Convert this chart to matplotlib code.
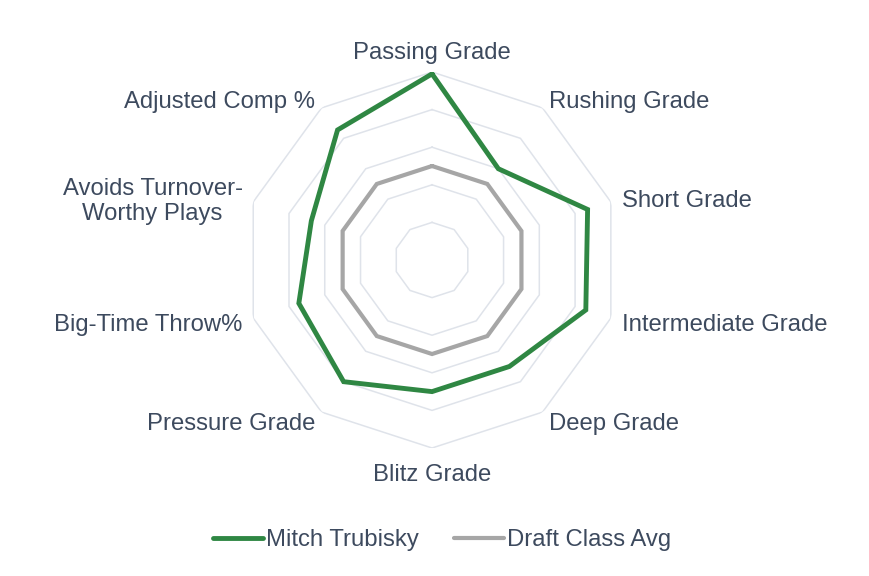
import matplotlib
matplotlib.use("Agg")
import matplotlib.pyplot as plt
import matplotlib.transforms as mtransforms
import numpy as np

plt.rcParams['font.family'] = ['Liberation Sans', 'DejaVu Sans']

categories = ["Passing Grade", "Rushing Grade", "Short Grade", "Intermediate Grade",
              "Deep Grade", "Blitz Grade", "Pressure Grade", "Big-Time Throw%",
              "Avoids Turnover-\nWorthy Plays", "Adjusted Comp %"]
trubisky = [99, 60, 87, 86, 70, 70, 80, 74.5, 67.5, 85.5]
draft_avg = [50, 50, 50, 50, 50, 50, 50, 50, 50, 50]
rings = [20, 40, 60, 80, 100]

green = "#2f8743"
gray = "#a6a6a6"
grid_col = "#dfe3ea"
txt_col = "#3d4a5e"
fs = 17.2

n = len(categories)
theta = np.arange(n) * 2 * np.pi / n

fig = plt.figure(figsize=(8.7, 5.76), dpi=100)
ax = fig.add_axes([0.2805, 0.2222, 0.4322, 0.6528], projection="polar")
ax.set_theta_zero_location("N")
ax.set_theta_direction(-1)
ax.set_ylim(0, 100)
ax.axis("off")

# polygon rings
th_closed = np.append(theta, theta[0])
for r in rings:
    ax.plot(th_closed, [r] * (n + 1), color=grid_col, lw=1.1, zorder=1)

ax.plot(th_closed, trubisky + trubisky[:1], color=green, lw=3.5,
        solid_joinstyle="miter", zorder=3, label="Mitch Trubisky")
ax.plot(th_closed, draft_avg + draft_avg[:1], color=gray, lw=3.0,
        solid_joinstyle="miter", zorder=2, label="Draft Class Avg")

# labels sit a few pixels lower than the plain centre alignment
shift = mtransforms.offset_copy(ax.transData, fig=fig, x=0, y=-3, units="dots")
for t, lab in zip(theta, categories):
    s = np.sin(t)
    if abs(s) < 1e-6:
        ha = "center"
    elif s > 0:
        ha = "left"
    else:
        ha = "right"
    c = np.cos(t)
    if c > 0.99:
        va, r = "bottom", 106
    elif c < -0.99:
        va, r = "top", 107
    else:
        va, r = "center", 106
    ax.text(t, r, lab, ha=ha, va=va, fontsize=fs, color=txt_col,
            multialignment="center", linespacing=1.2, transform=shift)

handles, labels = ax.get_legend_handles_labels()
for h in handles:
    h.set_solid_capstyle("round")
leg = fig.legend(handles, labels, loc="center",
                 bbox_to_anchor=(0.5 + 7 / 870, 1 - 540 / 576),
                 ncol=2, frameon=False, fontsize=fs, handlelength=2.1,
                 handletextpad=0.12, columnspacing=1.5)
for t in leg.get_texts():
    t.set_color(txt_col)

fig.savefig("out.png", dpi=100)
